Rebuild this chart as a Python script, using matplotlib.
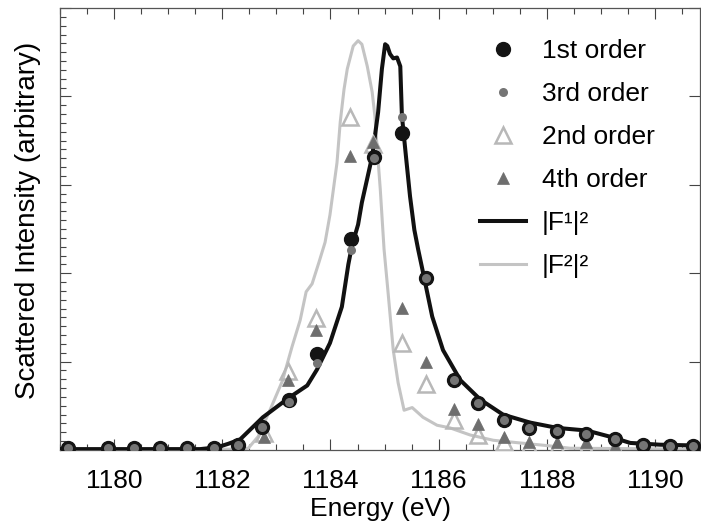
import matplotlib
matplotlib.use("Agg")
import matplotlib.pyplot as plt
from matplotlib.ticker import MultipleLocator

plt.rcParams['font.family'] = ['Liberation Sans', 'DejaVu Sans']

# Measured scattering intensities (arbitrary units) versus photon energy (eV)
e_odd = [1179.15, 1179.89, 1180.37, 1180.85, 1181.35, 1181.85, 1182.29, 1182.74,
         1183.23, 1183.75, 1184.38, 1184.81, 1185.33, 1185.77, 1186.29, 1186.72,
         1187.21, 1187.67, 1188.18, 1188.72, 1189.26, 1189.77, 1190.27, 1190.70]
first_order = [0.02, 0.02, 0.02, 0.02, 0.02, 0.02, 0.06, 0.26,
               0.57, 1.09, 2.39, 3.31, 3.59, 1.95, 0.79, 0.53,
               0.34, 0.25, 0.21, 0.18, 0.12, 0.06, 0.04, 0.04]
third_order = [0.02, 0.02, 0.02, 0.02, 0.02, 0.02, 0.06, 0.26,
               0.54, 0.98, 2.26, 3.30, 3.77, 1.95, 0.79, 0.53,
               0.34, 0.25, 0.21, 0.18, 0.12, 0.06, 0.04, 0.04]

e_even = [1182.78, 1183.22, 1183.73, 1184.36, 1184.79, 1185.33, 1185.77, 1186.29,
          1186.72, 1187.21, 1187.67, 1188.18, 1188.72, 1189.26]
second_order = [0.19, 0.89, 1.49, 3.77, 3.46, 1.21, 0.75, 0.34,
                0.17, 0.09, 0.05, 0.03, 0.02, 0.02]
fourth_order = [0.15, 0.79, 1.36, 3.33, 3.48, 1.61, 0.99, 0.46,
                0.29, 0.15, 0.09, 0.09, 0.09, 0.04]

# Calculated structure-factor curves
e_f1 = [1179.0, 1181.59, 1181.90, 1182.11, 1182.33, 1182.75, 1183.23, 1183.57,
        1183.75, 1183.99, 1184.21, 1184.33, 1184.40, 1184.51, 1184.58, 1184.77,
        1184.88, 1184.95, 1185.01, 1185.05, 1185.10, 1185.16, 1185.23, 1185.29,
        1185.32, 1185.40, 1185.47, 1185.55, 1185.62, 1185.71, 1185.88, 1186.08,
        1186.40, 1186.77, 1187.19, 1187.69, 1188.19, 1188.74, 1189.17, 1189.54,
        1190.09, 1190.83]
f1_sq = [0.01, 0.01, 0.03, 0.07, 0.12, 0.37, 0.59, 0.73,
         0.91, 1.21, 1.62, 2.10, 2.32, 2.55, 2.80, 3.32,
         3.82, 4.31, 4.59, 4.57, 4.48, 4.43, 4.44, 4.34,
         3.78, 3.29, 2.87, 2.49, 2.27, 2.01, 1.51, 1.13,
         0.79, 0.57, 0.40, 0.31, 0.25, 0.22, 0.15, 0.08,
         0.06, 0.05]

e_f2 = [1179.0, 1182.33, 1182.48, 1182.66, 1182.88, 1183.11, 1183.29, 1183.44,
        1183.55, 1183.66, 1183.79, 1183.90, 1183.99, 1184.12, 1184.18, 1184.25,
        1184.31, 1184.42, 1184.51, 1184.58, 1184.68, 1184.77, 1184.82, 1184.86,
        1184.92, 1184.99, 1185.06, 1185.16, 1185.25, 1185.36, 1185.51, 1185.71,
        1185.97, 1186.21, 1186.58, 1187.01, 1187.50, 1188.00, 1188.43, 1190.83]
f2_sq = [0.01, 0.01, 0.02, 0.15, 0.45, 0.78, 1.17, 1.47,
         1.79, 1.88, 2.13, 2.35, 2.66, 3.25, 3.71, 4.08,
         4.31, 4.57, 4.63, 4.59, 4.34, 4.05, 3.78, 3.44,
         2.95, 2.27, 1.81, 1.13, 0.76, 0.45, 0.48, 0.37,
         0.28, 0.25, 0.17, 0.11, 0.08, 0.05, 0.02, 0.01]

xticks = [1180, 1182, 1184, 1186, 1188, 1190]

fig = plt.figure(figsize=(7.01, 5.22), dpi=100)
ax = fig.add_axes([60 / 701, 72 / 522, 640 / 701, 442 / 522])

ax.plot(e_f2, f2_sq, color='#c4c4c4', lw=2.2, label='|F²|²', zorder=2)
ax.plot(e_f1, f1_sq, color='#111111', lw=2.9, label='|F¹|²', zorder=3)

ax.plot(e_even, second_order, ls='none', marker='^', ms=11, mfc='none',
        mec='#b8b8b8', mew=1.8, label='2nd order', zorder=4)
ax.plot(e_even, fourth_order, ls='none', marker='^', ms=8, mfc='#6e6e6e',
        mec='#6e6e6e', mew=0.5, label='4th order', zorder=5)
ax.plot(e_odd, first_order, ls='none', marker='o', ms=10, mfc='#141414',
        mec='#141414', mew=1, label='1st order', zorder=6)
ax.plot(e_odd, third_order, ls='none', marker='o', ms=6.5, mfc='#757575',
        mec='none', label='3rd order', zorder=7)

ax.set_xlim(1179.0, 1190.83)
ax.set_ylim(0, 5)
ax.set_xticks(xticks)
ax.xaxis.set_minor_locator(MultipleLocator(0.5))
ax.yaxis.set_major_locator(MultipleLocator(1))
ax.yaxis.set_minor_locator(MultipleLocator(0.1))
ax.tick_params(axis='both', which='both', direction='in', color='#444444')
ax.tick_params(axis='x', which='major', length=8, width=0.8, labelsize=19,
               pad=13.5, top=True)
ax.tick_params(axis='x', which='minor', length=4.5, width=0.8, top=True)
ax.tick_params(axis='y', which='major', length=8, width=0.8, right=True,
               labelleft=False)
ax.tick_params(axis='y', which='minor', length=4.5, width=0.8)
for sp in ax.spines.values():
    sp.set_color('#555555')
    sp.set_linewidth(0.9)

ax.set_xlabel('Energy (eV)', fontsize=19, labelpad=3)
ax.set_ylabel('Scattered Intensity (arbitrary)', fontsize=20)
ax.yaxis.set_label_coords(-0.03, 0.519)

handles, labels = ax.get_legend_handles_labels()
order = ['1st order', '3rd order', '2nd order', '4th order', '|F¹|²', '|F²|²']
hmap = dict(zip(labels, handles))
ax.legend([hmap[k] for k in order], order, loc='upper left',
          bbox_to_anchor=(0.656, 0.93), frameon=False, fontsize=19,
          borderpad=0, borderaxespad=0, handlelength=1.75, handletextpad=0.6,
          labelspacing=0.72)

fig.savefig('out.png', dpi=100)
